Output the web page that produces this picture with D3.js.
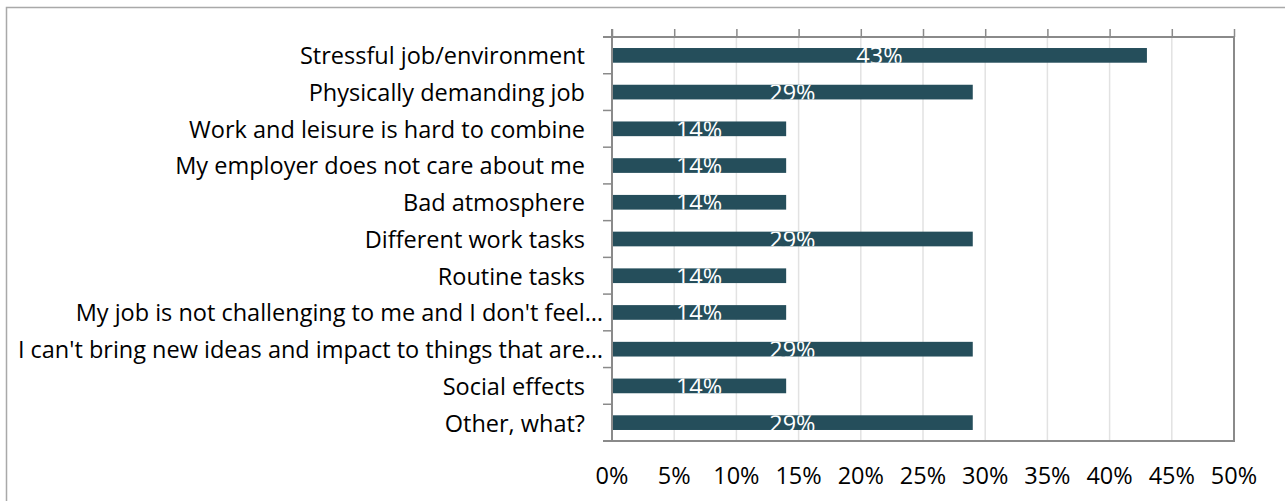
<!DOCTYPE html>
<html>
<head>
<meta charset="utf-8">
<script src="https://cdn.jsdelivr.net/npm/d3@7"></script>
<style>
  html, body { margin: 0; padding: 0; background: #fff; }
  svg { display: block; }
  text { font-family: "Open Sans", "Noto Sans", sans-serif; }
</style>
</head>
<body>
<svg id="chart" width="1285" height="501"></svg>
<script>
// Reasons for leaving, share of respondents
const categories = [
  "Stressful job/environment",
  "Physically demanding job",
  "Work and leisure is hard to combine",
  "My employer does not care about me",
  "Bad atmosphere",
  "Different work tasks",
  "Routine tasks",
  "My job is not challenging to me and I don't feel…",
  "I can't bring new ideas and impact to things that are…",
  "Social effects",
  "Other, what?"
];
const values = [0.43, 0.29, 0.14, 0.14, 0.14, 0.29, 0.14, 0.14, 0.29, 0.14, 0.29];
const xTicks = [0, 0.05, 0.10, 0.15, 0.20, 0.25, 0.30, 0.35, 0.40, 0.45, 0.50];

const data = categories.map((c, i) => ({ category: c, value: values[i] }));

const W = 1285, H = 501;
const plot = { left: 612, right: 1234, top: 37, bottom: 441 };
const fontSize = 23.5;
const barColor = "#254E5B";
const axisColor = "#8A8A8A";
const gridColor = "#E2E2E2";

const svg = d3.select("#chart");

// chart area border
svg.append("rect")
  .attr("x", 6.5).attr("y", 7.5)
  .attr("width", W + 10).attr("height", H + 10)
  .attr("fill", "none")
  .attr("stroke", "#A9A9A9")
  .attr("stroke-width", 1.5);

const x = d3.scaleLinear().domain([0, 0.5]).range([plot.left, plot.right]);
const y = d3.scaleBand()
  .domain(categories)
  .range([plot.top, plot.bottom])
  .paddingInner(0.6)
  .paddingOuter(0.3);

// vertical gridlines
svg.append("g")
  .selectAll("line")
  .data(xTicks.slice(1, -1))
  .join("line")
  .attr("x1", d => x(d)).attr("x2", d => x(d))
  .attr("y1", plot.top).attr("y2", plot.bottom)
  .attr("stroke", gridColor)
  .attr("stroke-width", 1.5);

// bars
svg.append("g")
  .selectAll("rect")
  .data(data)
  .join("rect")
  .attr("x", x(0))
  .attr("y", d => y(d.category))
  .attr("width", d => x(d.value) - x(0))
  .attr("height", y.bandwidth())
  .attr("fill", barColor);

// value labels, clipped to each bar
const defs = svg.append("defs");
defs.selectAll("clipPath")
  .data(data)
  .join("clipPath")
  .attr("id", (d, i) => "bar-clip-" + i)
  .append("rect")
  .attr("x", x(0))
  .attr("y", d => y(d.category))
  .attr("width", d => x(d.value) - x(0))
  .attr("height", y.bandwidth());

svg.append("g")
  .selectAll("text")
  .data(data)
  .join("text")
  .attr("clip-path", (d, i) => `url(#bar-clip-${i})`)
  .attr("x", d => (x(0) + x(d.value)) / 2)
  .attr("y", d => y(d.category) + y.bandwidth() / 2)
  .attr("dy", "0.38em")
  .attr("text-anchor", "middle")
  .attr("font-size", fontSize)
  .attr("fill", "#ffffff")
  .text(d => d3.format(".0%")(d.value));

// top value axis (ticks only)
const topAxis = d3.axisTop(x).tickValues(xTicks).tickSize(8).tickFormat("");
const gTop = svg.append("g")
  .attr("transform", `translate(0,${plot.top})`)
  .call(topAxis);
gTop.select(".domain").remove();
gTop.selectAll(".tick line").attr("stroke", axisColor).attr("stroke-width", 1.5);

// category boundary ticks on the left
const step = y.step();
const boundaries = d3.range(categories.length + 1).map(i => plot.top + i * step);
svg.append("g")
  .selectAll("line")
  .data(boundaries)
  .join("line")
  .attr("x1", plot.left - 9).attr("x2", plot.left)
  .attr("y1", d => d).attr("y2", d => d)
  .attr("stroke", axisColor)
  .attr("stroke-width", 1.5);

// plot frame
svg.append("line")
  .attr("x1", plot.left - 9).attr("x2", plot.right + 1)
  .attr("y1", plot.top).attr("y2", plot.top)
  .attr("stroke", axisColor).attr("stroke-width", 2);
svg.append("line")
  .attr("x1", plot.left - 9).attr("x2", plot.right + 1)
  .attr("y1", plot.bottom).attr("y2", plot.bottom)
  .attr("stroke", axisColor).attr("stroke-width", 2);
svg.append("line")
  .attr("x1", plot.right).attr("x2", plot.right)
  .attr("y1", plot.top).attr("y2", plot.bottom + 1)
  .attr("stroke", axisColor).attr("stroke-width", 2);
svg.append("line")
  .attr("x1", plot.left).attr("x2", plot.left)
  .attr("y1", plot.top - 8).attr("y2", plot.bottom + 1)
  .attr("stroke", axisColor).attr("stroke-width", 2);

// category labels
svg.append("g")
  .selectAll("text")
  .data(categories)
  .join("text")
  .attr("x", d => plot.left - (d.endsWith("…") ? 9 : 27))
  .attr("y", d => y(d) + y.bandwidth() / 2)
  .attr("dy", "0.38em")
  .attr("text-anchor", "end")
  .attr("font-size", fontSize)
  .attr("fill", "#000")
  .text(d => d);

// value tick labels along the bottom
svg.append("g")
  .selectAll("text")
  .data(xTicks)
  .join("text")
  .attr("x", d => x(d))
  .attr("y", 484)
  .attr("text-anchor", "middle")
  .attr("font-size", fontSize)
  .attr("fill", "#000")
  .text(d => d3.format(".0%")(d));
</script>
</body>
</html>
